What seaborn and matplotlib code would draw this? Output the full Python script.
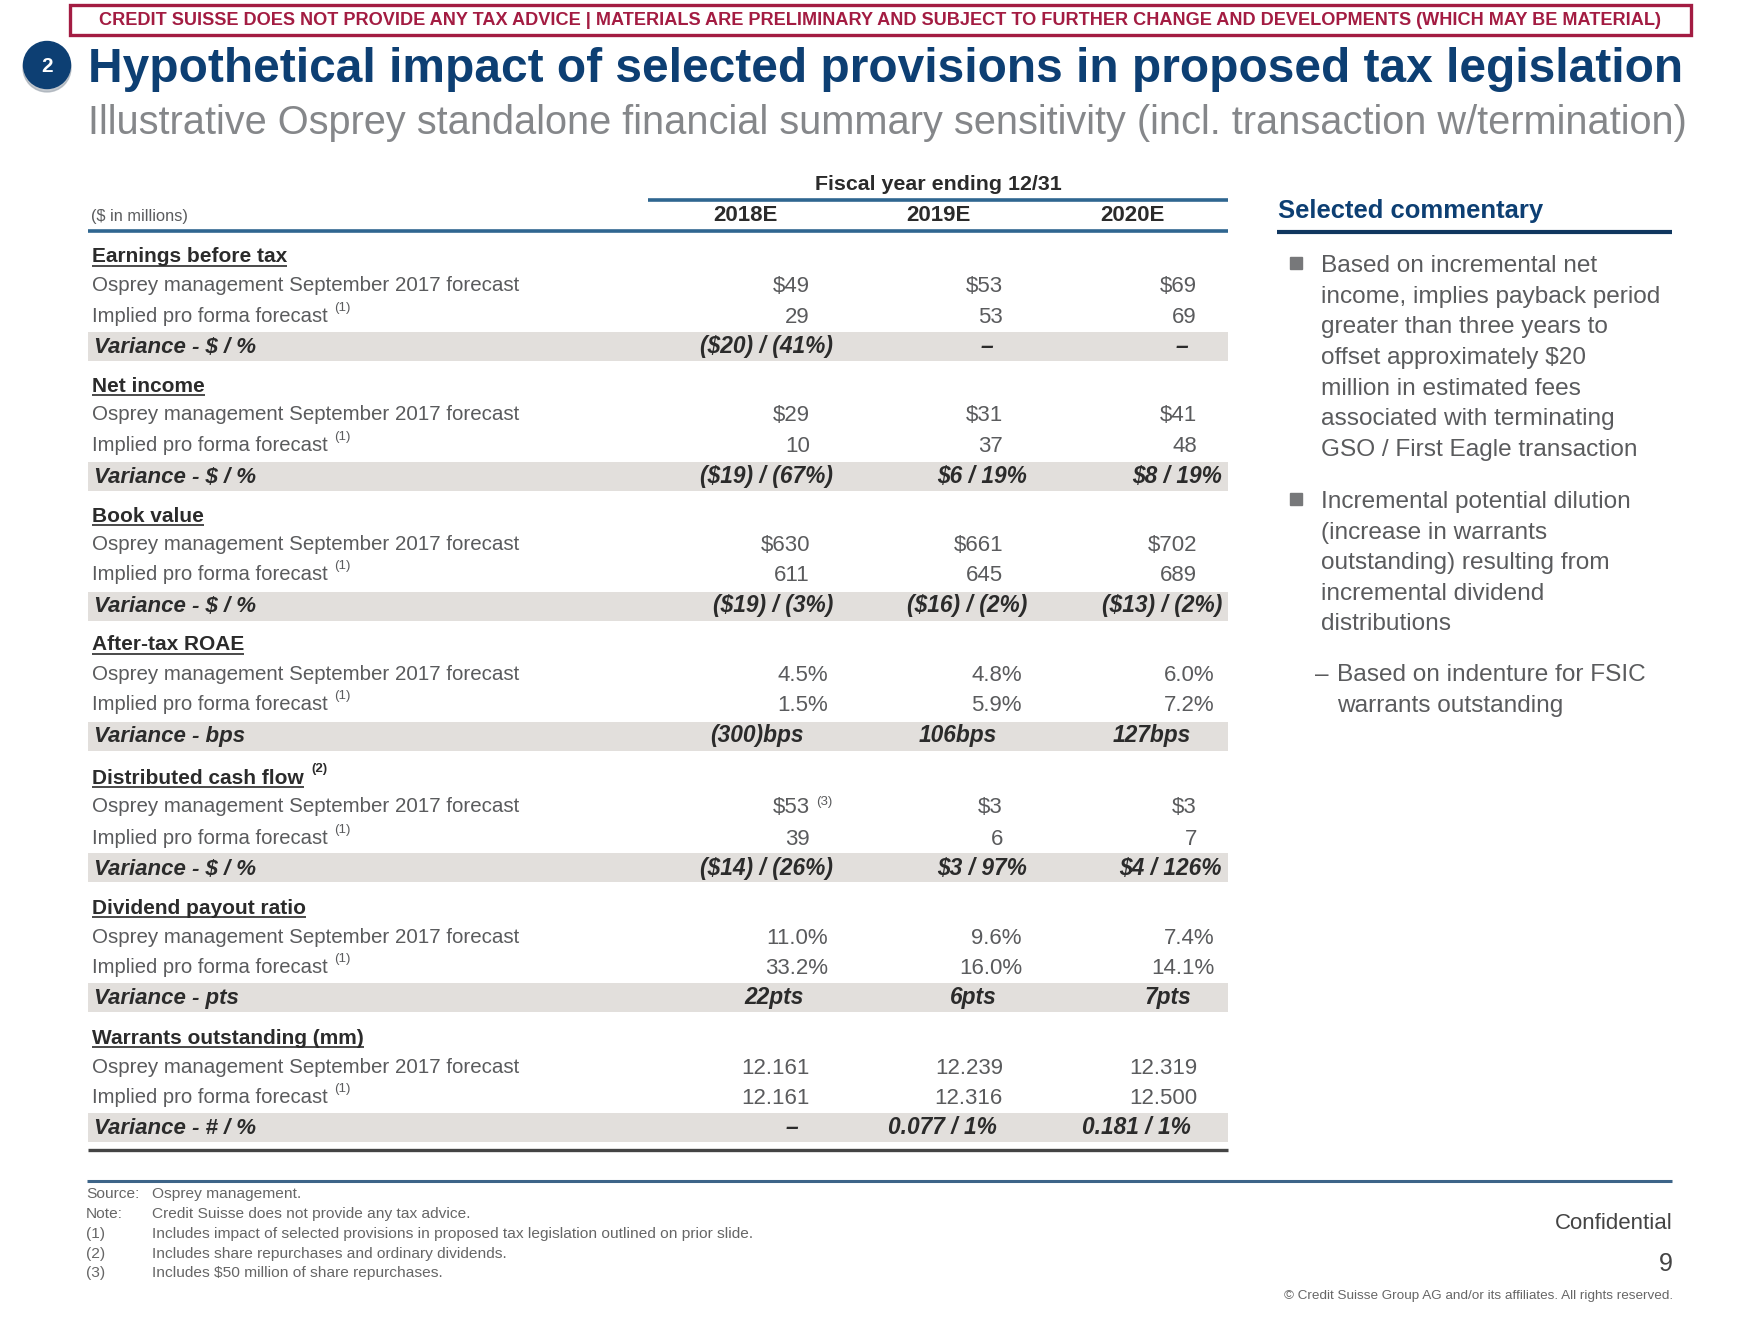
import numpy as np
import pandas as pd
import matplotlib
matplotlib.use('Agg')
import matplotlib.pyplot as plt
from matplotlib.colors import ListedColormap
from matplotlib.patches import Rectangle, Ellipse
import seaborn as sns

# ================================
# DATA
# ================================
banner = 'CREDIT SUISSE DOES NOT PROVIDE ANY TAX ADVICE | MATERIALS ARE PRELIMINARY AND SUBJECT TO FURTHER CHANGE AND DEVELOPMENTS (WHICH MAY BE MATERIAL)'
title = 'Hypothetical impact of selected provisions in proposed tax legislation'
subtitle = 'Illustrative Osprey standalone financial summary sensitivity (incl. transaction w/termination)'

years = ['2018E', '2019E', '2020E']
sections = ['Earnings before tax', 'Net income', 'Book value', 'After-tax ROAE',
            'Distributed cash flow', 'Dividend payout ratio', 'Warrants outstanding (mm)']
variance_labels = ['Variance - $ / %', 'Variance - $ / %', 'Variance - $ / %', 'Variance - bps',
                   'Variance - $ / %', 'Variance - pts', 'Variance - # / %']

forecast = [['$49', '$53', '$69'], ['$29', '$31', '$41'], ['$630', '$661', '$702'],
            ['4.5%', '4.8%', '6.0%'], ['$53', '$3', '$3'], ['11.0%', '9.6%', '7.4%'],
            ['12.161', '12.239', '12.319']]
implied = [['29', '53', '69'], ['10', '37', '48'], ['611', '645', '689'],
           ['1.5%', '5.9%', '7.2%'], ['39', '6', '7'], ['33.2%', '16.0%', '14.1%'],
           ['12.161', '12.316', '12.500']]
variance = [['($20) / (41%)', '–', '–'],
            ['($19) / (67%)', '$6 / 19%', '$8 / 19%'],
            ['($19) / (3%)', '($16) / (2%)', '($13) / (2%)'],
            ['(300)bps', '106bps', '127bps'],
            ['($14) / (26%)', '$3 / 97%', '$4 / 126%'],
            ['22pts', '6pts', '7pts'],
            ['–', '0.077 / 1%', '0.181 / 1%']]

commentary = [['Based on incremental net', 'income, implies payback period', 'greater than three years to',
               'offset approximately $20', 'million in estimated fees', 'associated with terminating',
               'GSO / First Eagle transaction'],
              ['Incremental potential dilution', '(increase in warrants', 'outstanding) resulting from',
               'incremental dividend', 'distributions']]
sub_commentary = ['Based on indenture for FSIC', 'warrants outstanding']

foot_keys = ['Source:', 'Note:', '(1)', '(2)', '(3)']
foot_text = ['Osprey management.', 'Credit Suisse does not provide any tax advice.',
             'Includes impact of selected provisions in proposed tax legislation outlined on prior slide.',
             'Includes share repurchases and ordinary dividends.',
             'Includes $50 million of share repurchases.']

# ================================
# LAYOUT (pixels of the slide)
# ================================
W, H = 1759, 1320
NAVY = '#0d3f73'
BLUE = '#2f6690'
RED = '#a31c42'
BODY = '#5a5b5d'
DARK = '#2b2b2b'

y_head = [255, 384, 514, 643, 776, 906, 1036]
y_fore = [284, 413, 543, 673, 805, 936, 1066]
y_impl = [315, 444, 573, 703, 837, 966, 1096]
y_var = [345, 475, 604, 734, 867, 996, 1126]

right_dollar = [810, 1003, 1197]
right_pct = [828, 1022, 1215]
right_var_far = [833, 1027, 1222]
right_var_near = [804, 997, 1191]
right_dash = [798, 993, 1188]

sns.set_theme(style='white')
plt.rcParams['font.family'] = ['Liberation Sans', 'DejaVu Sans']

fig = plt.figure(figsize=(W / 100, H / 100), dpi=100, facecolor='white')

# ================================
# GREY VARIANCE BANDS
# ================================
# each section is 9 grid rows, the last band row is the end of the grid
band_rows = []
for s in range(len(sections)):
    band_rows += [0, 0, 0, 0, 0, 0, 1, 1, 0]
band = pd.DataFrame(np.array(band_rows[:-1]).reshape(-1, 1))

ax_band = fig.add_axes([88 / W, 1 - 1142 / H, (1228 - 88) / W, (1142 - 245) / H])
sns.heatmap(band, ax=ax_band, mask=band == 0, cmap=ListedColormap(['#e2dfdc']),
            cbar=False, xticklabels=False, yticklabels=False)

# ================================
# OVERLAY FOR TEXT AND RULES
# ================================
ax = fig.add_axes([0, 0, 1, 1], zorder=5)
ax.set_xlim(0, W)
ax.set_ylim(H, 0)
ax.axis('off')
ax.patch.set_alpha(0)


def put(x, y, s, size=14.8, color=BODY, ha='left', **kw):
    # y is the middle of the capitals, so rows with descenders stay on one baseline
    return ax.text(x, y + 0.36 * size * 100 / 72, s, fontsize=size, color=color, ha=ha,
                   va='baseline', parse_math=False, **kw)


def rule(x0, x1, y, color=BLUE, lw=2.6):
    ax.plot([x0, x1], [y, y], color=color, lw=lw, solid_capstyle='butt')


# header block
ax.add_patch(Rectangle((70, 5), 1621, 30, fill=False, ec=RED, lw=2.4))
put(880, 18.5, banner, size=13.09, color=RED, ha='center', fontweight='bold')

ax.add_patch(Ellipse((47, 68), 48, 48, color='#9aa3ad', alpha=0.6))
ax.add_patch(Ellipse((47, 65), 47, 47, color=NAVY))
put(47, 65, '2', size=15, color='white', ha='center', fontweight='bold')
ax.text(88, 82, title, fontsize=34.48, color=NAVY, va='baseline', fontweight='bold')
ax.text(88, 134, subtitle, fontsize=28.67, color='#85878a', va='baseline')

# table head
put(938, 182, 'Fiscal year ending 12/31', size=15.4, color=DARK, ha='center', fontweight='bold')
rule(648, 1228, 200)
rule(88, 1228, 231)
put(91, 215, '($ in millions)', size=11.8, color=BODY)
for x, yr in zip([745, 938, 1132], years):
    put(x, 213, yr, size=16, color=DARK, ha='center', fontweight='bold')

# table body
fig.canvas.draw()
rend = fig.canvas.get_renderer()
for s, name in enumerate(sections):
    t = put(92, y_head[s], name, size=15, color=DARK, fontweight='bold')
    head_end = 92 + t.get_window_extent(rend).width
    rule(92, head_end, y_head[s] + 11, color=DARK, lw=1.2)
    if s == 4:
        put(head_end + 8, y_head[s] - 9, '(2)', size=9.5, color=DARK, fontweight='bold')

    put(92, y_fore[s], 'Osprey management September 2017 forecast', size=14.75)
    t = put(92, y_impl[s], 'Implied pro forma forecast', size=14.6)
    end = 92 + t.get_window_extent(rend).width
    put(end + 6, y_impl[s] - 9, '(1)', size=9.5)
    put(94, y_var[s], variance_labels[s], size=16, color=DARK, fontweight='bold', style='italic')

    rights = right_pct if s in (3, 5) else right_dollar
    for c in range(3):
        put(rights[c], y_fore[s], forecast[s][c], size=16, ha='right')
        put(rights[c], y_impl[s], implied[s][c], size=16, ha='right')
        val = variance[s][c]
        if val == '–':
            vx = right_dash[c]
        elif s in (3, 5, 6):
            vx = right_var_near[c]
        else:
            vx = right_var_far[c]
        put(vx, y_var[s], val, size=16.4, color=DARK, ha='right', fontweight='bold', style='italic')

put(816, y_fore[4] - 5, '(3)', size=9.5)
rule(88, 1228, 1150, color='#444444', lw=2.4)

# commentary
put(1278, 209, 'Selected commentary', size=18.45, color=NAVY, fontweight='bold')
rule(1277, 1672, 232, color='#10375f', lw=3)

y_lines = [[263, 294, 324, 355, 386, 416, 447], [499, 530, 560, 591, 621]]
for lines, ys in zip(commentary, y_lines):
    ax.add_patch(Rectangle((1290, ys[0] - 6), 12, 12, color='#77787a'))
    for line, y in zip(lines, ys):
        put(1321, y, line, size=17.55)
put(1315, 672, '–', size=17.55)
for line, y in zip(sub_commentary, [672, 703]):
    put(1337, y, line, size=17.55)

# footer
rule(87, 1672, 1181, color='#3d6488', lw=2.2)
for key, txt, y in zip(foot_keys, foot_text, [1192, 1212, 1232, 1252, 1271]):
    put(86, y, key, size=11.15, color='#666666')
    put(152, y, txt, size=11.15, color='#666666')

put(1673, 1221, 'Confidential', size=16, color='#444444', ha='right')
put(1673, 1262, '9', size=18, color='#444444', ha='right')
put(1673, 1294, '© Credit Suisse Group AG and/or its affiliates. All rights reserved.',
    size=9.7, color='#666666', ha='right')

plt.savefig('out.png', dpi=100, facecolor='white')
